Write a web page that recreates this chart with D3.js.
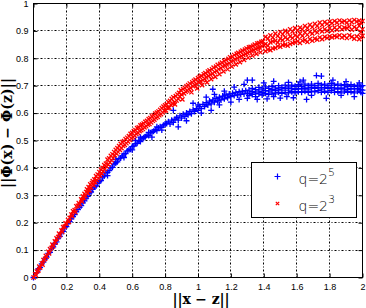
<!DOCTYPE html>
<html>
<head>
<meta charset="utf-8">
<script src="https://cdn.jsdelivr.net/npm/d3@7"></script>
<style>
    body { margin: 0; background: white; }
    #myPlot { width: 366px; height: 308px; }
</style>
</head>
<body>
<div id="myPlot"></div>
<script>
const xTicks = [0, 0.2, 0.4, 0.6, 0.8, 1, 1.2, 1.4, 1.6, 1.8, 2]
const yTicks = [0, 0.1, 0.2, 0.3, 0.4, 0.5, 0.6, 0.7, 0.8, 0.9, 1]
const seriesNames = ["q=2", "q=2"]
const seriesExponents = ["5", "3"]

// q = 2^5, blue "+"
const blueQ5 = [
    [0.00,0.00],[0.02,0.018],[0.03,0.032],[0.04,0.036],[0.05,0.05],[0.06,0.056],[0.07,0.068],[0.08,0.074],[0.09,0.088],[0.10,0.092],
    [0.11,0.106],[0.12,0.112],[0.13,0.124],[0.14,0.13],[0.15,0.144],[0.16,0.15],[0.17,0.164],[0.18,0.168],[0.19,0.182],[0.20,0.186],
    [0.21,0.198],[0.22,0.204],[0.23,0.214],[0.24,0.222],[0.25,0.23],[0.26,0.24],[0.27,0.248],[0.28,0.256],[0.29,0.262],[0.30,0.272],
    [0.31,0.28],[0.32,0.29],[0.33,0.296],[0.34,0.308],[0.35,0.312],[0.36,0.322],[0.37,0.33],[0.38,0.334],[0.39,0.344],[0.40,0.35],
    [0.41,0.354],[0.42,0.366],[0.43,0.37],[0.44,0.382],[0.45,0.384],[0.46,0.39],[0.47,0.4],[0.48,0.402],[0.49,0.414],[0.50,0.418],
    [0.51,0.422],[0.52,0.434],[0.53,0.436],[0.54,0.444],[0.55,0.45],[0.56,0.452],[0.57,0.462],[0.58,0.466],[0.59,0.468],[0.60,0.478],
    [0.61,0.48],[0.62,0.488],[0.63,0.49],[0.64,0.5],[0.65,0.496],[0.66,0.506],[0.67,0.51],[0.68,0.514],[0.69,0.52],[0.70,0.518],
    [0.71,0.528],[0.72,0.53],[0.73,0.534],[0.74,0.54],[0.75,0.536],[0.76,0.546],[0.77,0.55],[0.78,0.548],[0.79,0.556],[0.80,0.56],
    [0.45,0.372],[0.50,0.43],[0.55,0.438],[0.60,0.466],[0.62,0.5],[0.65,0.512],[0.70,0.53],[0.72,0.512],[0.75,0.55],[0.78,0.538],
    [0.81,0.562],[0.82,0.568],[0.83,0.56],[0.84,0.574],[0.85,0.566],[0.85,0.61],[0.86,0.578],[0.87,0.584],[0.88,0.574],[0.89,0.59],
    [0.90,0.582],[0.91,0.596],[0.92,0.588],[0.93,0.6],[0.94,0.594],[0.95,0.606],[0.96,0.598],[0.97,0.612],[0.98,0.606],[0.99,0.616],
    [1.00,0.61],[1.00,0.63],[1.01,0.624],[1.02,0.616],[1.03,0.632],[1.04,0.624],[1.05,0.638],[1.06,0.63],[1.07,0.644],[1.08,0.634],
    [1.09,0.648],[1.10,0.64],[1.11,0.654],[1.12,0.644],[1.13,0.658],[1.14,0.648],[1.15,0.662],[1.16,0.652],[1.17,0.666],[1.18,0.656],
    [1.19,0.67],[1.20,0.66],[1.21,0.672],[1.22,0.664],[1.23,0.676],[1.24,0.666],[1.25,0.678],[1.26,0.668],[1.27,0.68],[1.28,0.67],
    [1.29,0.682],[1.30,0.672],
    [0.88,0.55],[0.93,0.572],[0.97,0.636],[1.02,0.6],[1.05,0.658],[1.08,0.61],[1.09,0.687],[1.10,0.668],[1.13,0.63],[1.16,0.68],
    [1.20,0.64],[1.22,0.695],[1.25,0.65],[1.28,0.705],[1.30,0.72],[1.30,0.654],[1.33,0.72],
    [1.31,0.684],[1.31,0.672],[1.31,0.664],[1.33,0.69],[1.33,0.678],[1.33,0.668],[1.35,0.686],[1.35,0.674],[1.35,0.66],
    [1.37,0.694],[1.37,0.68],[1.37,0.67],[1.39,0.688],[1.39,0.676],[1.39,0.666],[1.41,0.696],[1.41,0.682],[1.41,0.672],
    [1.43,0.69],[1.43,0.68],[1.43,0.668],[1.45,0.698],[1.45,0.686],[1.45,0.674],[1.47,0.692],[1.47,0.682],[1.47,0.67],
    [1.49,0.7],[1.49,0.688],[1.49,0.676],[1.51,0.694],[1.51,0.684],[1.51,0.672],[1.53,0.702],[1.53,0.69],[1.53,0.676],
    [1.55,0.696],[1.55,0.684],[1.55,0.674],[1.57,0.702],[1.57,0.69],[1.57,0.678],[1.59,0.698],[1.59,0.686],[1.59,0.674],
    [1.61,0.704],[1.61,0.69],[1.61,0.678],[1.63,0.698],[1.63,0.688],[1.63,0.676],[1.65,0.706],[1.65,0.692],[1.65,0.68],
    [1.67,0.7],[1.67,0.688],[1.67,0.676],[1.69,0.706],[1.69,0.694],[1.69,0.68],[1.71,0.7],[1.71,0.69],[1.71,0.678],
    [1.73,0.708],[1.73,0.694],[1.73,0.682],[1.75,0.702],[1.75,0.688],[1.75,0.676],[1.77,0.706],[1.77,0.694],[1.77,0.68],
    [1.79,0.7],[1.79,0.69],[1.79,0.676],[1.81,0.708],[1.81,0.694],[1.81,0.682],[1.83,0.702],[1.83,0.688],[1.83,0.676],
    [1.85,0.706],[1.85,0.692],[1.85,0.678],[1.87,0.7],[1.87,0.688],[1.87,0.674],[1.89,0.704],[1.89,0.692],[1.89,0.68],
    [1.91,0.698],[1.91,0.686],[1.91,0.676],[1.93,0.704],[1.93,0.69],[1.93,0.678],[1.95,0.698],[1.95,0.688],[1.95,0.674],
    [1.97,0.702],[1.97,0.69],[1.97,0.68],[1.99,0.696],[1.99,0.686],[1.99,0.676],[2.00,0.7],[2.00,0.684],[2.00,0.672],
    [1.36,0.65],[1.40,0.71],[1.42,0.652],[1.46,0.716],[1.50,0.655],[1.55,0.712],[1.58,0.656],[1.62,0.714],[1.66,0.65],
    [1.69,0.665],[1.72,0.737],[1.75,0.735],[1.78,0.654],[1.82,0.72],[1.87,0.665],[1.90,0.715],[1.95,0.66],[1.98,0.71],
    [1.54,0.66],[1.46,0.66],[1.64,0.72]
]

// q = 2^3, red "x"
const redQ3 = [
    [0.00,0.00],[0.01,0.012],[0.015,0.008],[0.02,0.022],[0.03,0.026],[0.035,0.04],[0.04,0.036],[0.05,0.052],[0.055,0.047],[0.06,0.064],
    [0.07,0.068],[0.075,0.079],[0.08,0.076],[0.09,0.094],[0.095,0.088],[0.10,0.104],[0.11,0.108],[0.115,0.12],[0.12,0.114],[0.13,0.132],
    [0.135,0.128],[0.14,0.143],[0.15,0.148],[0.155,0.16],[0.16,0.154],[0.17,0.172],[0.175,0.166],[0.18,0.184],[0.19,0.186],[0.195,0.198],
    [0.20,0.196],[0.21,0.21],[0.215,0.203],[0.22,0.218],[0.23,0.23],[0.235,0.224],[0.24,0.242],[0.25,0.246],[0.255,0.238],[0.26,0.26],
    [0.27,0.262],[0.275,0.272],[0.28,0.268],[0.29,0.285],[0.295,0.278],[0.30,0.296],
    [0.305,0.29],[0.31,0.305],[0.315,0.298],[0.32,0.312],[0.325,0.322],[0.33,0.308],[0.335,0.33],[0.34,0.318],[0.345,0.34],[0.35,0.328],
    [0.355,0.345],[0.36,0.352],[0.365,0.336],[0.37,0.358],[0.375,0.348],[0.38,0.37],[0.385,0.355],[0.39,0.376],[0.395,0.362],[0.40,0.385],
    [0.405,0.372],[0.41,0.394],[0.415,0.38],[0.42,0.40],[0.425,0.388],[0.43,0.41],[0.435,0.396],[0.44,0.416],[0.445,0.405],[0.45,0.43],
    [0.455,0.412],[0.46,0.435],[0.465,0.42],[0.47,0.444],[0.475,0.428],[0.48,0.45],[0.485,0.436],[0.49,0.458],[0.495,0.446],[0.50,0.466],
    [0.505,0.452],[0.51,0.472],[0.515,0.458],[0.52,0.48],[0.525,0.466],[0.53,0.488],[0.535,0.472],[0.54,0.494],[0.545,0.48],[0.55,0.498],
    [0.555,0.484],[0.56,0.505],[0.565,0.49],[0.57,0.51],[0.575,0.496],[0.58,0.516],[0.585,0.502],[0.59,0.524],[0.595,0.508],[0.60,0.528],
    [0.605,0.512],[0.61,0.534],[0.615,0.518],[0.62,0.538],[0.625,0.524],[0.63,0.545],[0.635,0.528],[0.64,0.548],[0.645,0.534],[0.65,0.555],
    [0.655,0.538],[0.66,0.558],[0.665,0.542],[0.67,0.562],[0.675,0.548],[0.68,0.568],[0.685,0.552],[0.69,0.572],[0.695,0.558],[0.70,0.578],
    [0.705,0.56],[0.71,0.582],[0.715,0.566],[0.72,0.588],[0.725,0.572],[0.73,0.592],[0.735,0.576],[0.74,0.598],[0.745,0.582],[0.75,0.602],
    [0.755,0.586],[0.76,0.606],[0.765,0.592],[0.77,0.612],[0.775,0.596],[0.78,0.618],[0.785,0.602],[0.79,0.624],[0.795,0.608],[0.80,0.628],
    [0.805,0.61],[0.81,0.632],[0.815,0.618],[0.82,0.64],[0.825,0.62],[0.83,0.645],[0.835,0.63],[0.84,0.652],[0.845,0.634],[0.85,0.658],
    [0.855,0.64],[0.86,0.632],[0.865,0.662],[0.87,0.646],[0.875,0.668],[0.88,0.652],[0.885,0.674],[0.89,0.66],[0.895,0.684],[0.90,0.668],
    [0.905,0.65],[0.91,0.688],[0.915,0.672],[0.92,0.692],[0.925,0.678],[0.93,0.698],[0.935,0.682],[0.94,0.702],[0.945,0.688],[0.95,0.708],
    [0.955,0.692],[0.96,0.676],[0.965,0.712],[0.97,0.698],[0.975,0.718],[0.98,0.702],[0.985,0.722],[0.99,0.706],[0.995,0.69],[1.00,0.728],
    [1.005,0.712],[1.01,0.732],[1.015,0.716],[1.02,0.736],[1.025,0.702],[1.03,0.72],[1.035,0.742],[1.04,0.726],[1.045,0.746],[1.05,0.73],
    [1.055,0.712],[1.06,0.752],[1.065,0.736],[1.07,0.756],[1.075,0.74],[1.08,0.724],[1.085,0.76],[1.09,0.744],[1.095,0.766],[1.10,0.75],
    [1.105,0.732],[1.11,0.77],[1.115,0.754],[1.12,0.776],[1.125,0.76],[1.13,0.742],[1.135,0.78],[1.14,0.764],[1.145,0.784],[1.15,0.77],
    [1.155,0.752],[1.16,0.79],[1.165,0.774],[1.17,0.794],[1.175,0.778],[1.18,0.76],[1.185,0.798],[1.19,0.782],[1.195,0.804],[1.20,0.788],
    [1.205,0.77],[1.21,0.806],[1.215,0.792],[1.22,0.812],[1.225,0.796],[1.23,0.778],[1.235,0.816],[1.24,0.8],[1.245,0.82],[1.25,0.804],
    [1.255,0.786],[1.26,0.824],[1.265,0.808],[1.27,0.828],[1.275,0.812],[1.28,0.794],[1.285,0.832],[1.29,0.816],[1.295,0.836],[1.30,0.82],
    [1.305,0.802],[1.31,0.84],[1.315,0.824],[1.32,0.842],[1.325,0.828],[1.33,0.81],[1.335,0.846],[1.34,0.83],[1.345,0.85],[1.35,0.834],
    [1.355,0.816],[1.36,0.854],[1.365,0.838],[1.37,0.856],[1.375,0.84],[1.38,0.822],[1.385,0.86],[1.39,0.844],[1.395,0.862],[1.40,0.848],
    [1.41,0.878],[1.41,0.852],[1.41,0.826],[1.425,0.872],[1.425,0.846],[1.425,0.832],[1.44,0.884],[1.44,0.858],[1.44,0.83],
    [1.455,0.876],[1.455,0.862],[1.455,0.836],[1.47,0.89],[1.47,0.864],[1.47,0.838],[1.485,0.882],[1.485,0.858],[1.485,0.844],
    [1.50,0.896],[1.50,0.872],[1.50,0.842],[1.515,0.888],[1.515,0.866],[1.515,0.848],[1.53,0.9],[1.53,0.876],[1.53,0.85],
    [1.545,0.894],[1.545,0.87],[1.545,0.846],[1.56,0.906],[1.56,0.88],[1.56,0.852],[1.575,0.898],[1.575,0.874],[1.575,0.856],
    [1.59,0.91],[1.59,0.884],[1.59,0.858],[1.605,0.902],[1.605,0.878],[1.605,0.862],[1.62,0.912],[1.62,0.89],[1.62,0.856],
    [1.635,0.906],[1.635,0.882],[1.635,0.864],[1.65,0.918],[1.65,0.894],[1.65,0.866],[1.665,0.91],[1.665,0.886],[1.665,0.86],
    [1.68,0.922],[1.68,0.896],[1.68,0.87],[1.695,0.914],[1.695,0.89],[1.695,0.864],[1.71,0.926],[1.71,0.9],[1.71,0.872],
    [1.725,0.918],[1.725,0.894],[1.725,0.868],[1.74,0.93],[1.74,0.904],[1.74,0.876],[1.755,0.922],[1.755,0.898],[1.755,0.87],
    [1.77,0.932],[1.77,0.906],[1.77,0.878],[1.785,0.926],[1.785,0.9],[1.785,0.874],[1.80,0.934],[1.80,0.91],[1.80,0.88],
    [1.815,0.928],[1.815,0.902],[1.815,0.876],[1.83,0.936],[1.83,0.912],[1.83,0.882],[1.845,0.93],[1.845,0.904],[1.845,0.878],
    [1.86,0.938],[1.86,0.914],[1.86,0.884],[1.875,0.932],[1.875,0.906],[1.875,0.876],[1.89,0.936],[1.89,0.912],[1.89,0.882],
    [1.905,0.93],[1.905,0.91],[1.905,0.874],[1.92,0.938],[1.92,0.916],[1.92,0.884],[1.935,0.932],[1.935,0.904],[1.935,0.878],
    [1.95,0.94],[1.95,0.914],[1.95,0.872],[1.965,0.934],[1.965,0.908],[1.965,0.88],[1.98,0.938],[1.98,0.918],[1.98,0.87],
    [1.99,0.93],[1.99,0.896],[1.99,0.876],[2.00,0.936],[2.00,0.906],[2.00,0.882]
]

const rootSelector = "#myPlot"
const margin = {top: 3, right: 4, bottom: 31, left: 33}
const clientWidth = 366
const clientHeight = 308
const width = clientWidth - margin.left - margin.right
const height = clientHeight - margin.top - margin.bottom

const svg = d3.select(rootSelector).append("svg")
    .attr("width", clientWidth)
    .attr("height", clientHeight)
    .style("font-family", "'Liberation Sans', Arial, sans-serif")

const g = svg.append("g")
    .attr("transform", `translate(${margin.left + 0.5}, ${margin.top + 0.5})`)

const xScale = d3.scaleLinear().domain([0, 2]).range([0, width])
const yScale = d3.scaleLinear().domain([0, 1]).range([height, 0])

// grid
g.append("g").selectAll("line")
    .data(xTicks.slice(1, -1))
    .enter().append("line")
    .attr("x1", d => Math.round(xScale(d))).attr("x2", d => Math.round(xScale(d)))
    .attr("y1", 0).attr("y2", height)
    .attr("stroke", "#000").attr("stroke-dasharray", "2,2,1,2")

g.append("g").selectAll("line")
    .data(yTicks.slice(1, -1))
    .enter().append("line")
    .attr("y1", d => Math.round(yScale(d))).attr("y2", d => Math.round(yScale(d)))
    .attr("x1", 0).attr("x2", width)
    .attr("stroke", "#000").attr("stroke-dasharray", "2,2,1,2")

// axes, ticks inward on all four sides
const tickLen = 4
const xAxisBottom = d3.axisBottom(xScale).tickValues(xTicks).tickSizeInner(-tickLen).tickSizeOuter(0)
    .tickPadding(6).tickFormat(d3.format("~g"))
const xAxisTop = d3.axisTop(xScale).tickValues(xTicks).tickSizeInner(-tickLen).tickSizeOuter(0).tickFormat("")
const yAxisLeft = d3.axisLeft(yScale).tickValues(yTicks).tickSizeInner(-tickLen).tickSizeOuter(0)
    .tickPadding(5).tickFormat(d3.format("~g"))
const yAxisRight = d3.axisRight(yScale).tickValues(yTicks).tickSizeInner(-tickLen).tickSizeOuter(0).tickFormat("")

g.append("g").attr("transform", `translate(0, ${height})`).call(xAxisBottom)
g.append("g").call(xAxisTop)
g.append("g").call(yAxisLeft)
g.append("g").attr("transform", `translate(${width}, 0)`).call(yAxisRight)

g.selectAll(".tick text").attr("font-size", 9).attr("font-family", "'Liberation Sans', Arial, sans-serif").attr("fill", "#000")
g.selectAll(".domain").remove()

g.append("rect")
    .attr("width", width).attr("height", height)
    .attr("fill", "none").attr("stroke", "#000")

// markers
const plusPath = (x, y, r) => `M${x - r},${y}H${x + r}M${x},${y - r}V${y + r}`
const crossPath = (x, y, r) => `M${x - r},${y - r}L${x + r},${y + r}M${x - r},${y + r}L${x + r},${y - r}`

g.append("path")
    .attr("d", blueQ5.map(d => plusPath(xScale(d[0]), yScale(d[1]), 3)).join(""))
    .attr("stroke", "#0000ff").attr("stroke-width", 1.3).attr("fill", "none")

g.append("path")
    .attr("d", redQ3.map(d => crossPath(xScale(d[0]), yScale(d[1]), 2.1)).join(""))
    .attr("stroke", "#ff0000").attr("stroke-width", 1.3).attr("fill", "none")

// legend
const legend = svg.append("g").attr("transform", "translate(251.5, 162.5)")
legend.append("rect")
    .attr("width", 105).attr("height", 55)
    .attr("fill", "#fff").attr("stroke", "#000")

legend.append("path").attr("d", plusPath(26, 14, 3))
    .attr("stroke", "#0000ff").attr("stroke-width", 1.2)
legend.append("path").attr("d", crossPath(26, 41, 1.7))
    .attr("stroke", "#ff0000").attr("stroke-width", 1.2)

seriesNames.forEach((name, i) => {
    const t = legend.append("text")
        .attr("x", 47).attr("y", 21 + i * 27)
        .attr("font-size", 14).attr("font-family", "'DejaVu Sans', sans-serif")
        .attr("font-weight", 300)
        .text(name)
    t.append("tspan").attr("dy", -8).attr("font-size", 11).text(seriesExponents[i])
})

// axis labels
svg.append("text")
    .attr("x", 201).attr("y", 304)
    .attr("text-anchor", "middle")
    .attr("font-family", "'DejaVu Serif', serif").attr("font-weight", "bold").attr("font-size", 14)
    .attr("textLength", 57).attr("lengthAdjust", "spacing")
    .text("||x − z||")

svg.append("text")
    .attr("transform", "translate(12, 133) rotate(-90)")
    .attr("text-anchor", "middle")
    .attr("font-family", "'DejaVu Serif', serif").attr("font-weight", "bold").attr("font-size", 14)
    .attr("textLength", 110).attr("lengthAdjust", "spacing")
    .text("||Φ(x) − Φ(z)||")
</script>
</body>
</html>
